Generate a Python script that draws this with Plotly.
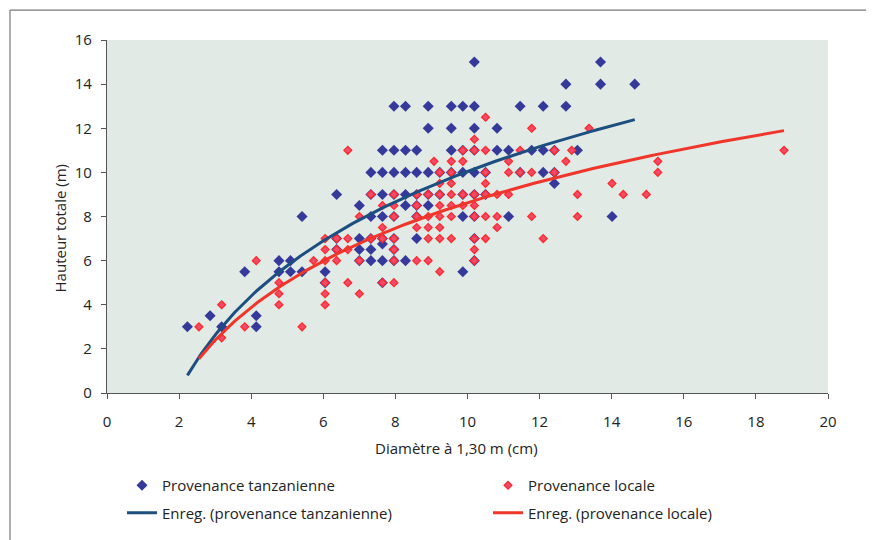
import numpy as np
import plotly.graph_objects as go

# ---- Provenance tanzanienne : diamètre (cm) / hauteur (m) ----
tz_diam = [10.19, 13.69,
           12.73, 13.69, 14.64,
           7.96, 8.28, 8.91, 9.55, 9.87, 10.19, 11.46, 12.10, 12.73,
           8.91, 9.55, 10.19, 10.82,
           7.64, 7.96, 8.28, 8.59, 9.55, 9.87, 10.19, 10.82, 11.14, 11.78, 12.10, 12.41, 13.05,
           7.32, 7.64, 7.96, 8.28, 8.59, 8.91, 9.23, 9.55, 9.87, 10.19, 10.50, 11.46, 12.10, 12.41,
           12.41,
           6.37, 7.32, 7.64, 7.96, 8.28, 8.59, 8.91, 9.23, 9.87, 10.19, 10.50,
           7.00, 8.28, 8.59, 8.91,
           5.41, 7.32, 7.64, 7.96, 8.59, 9.87, 10.19, 11.14, 14.01,
           6.37, 7.00, 7.32, 7.64, 7.96, 8.59, 10.19,
           7.64,
           6.37, 7.00, 7.32, 7.96,
           4.77, 5.09, 7.00, 7.32, 7.64, 7.96, 8.28, 10.19,
           3.82, 4.77, 5.09, 5.41, 6.05, 9.87,
           6.05, 7.64,
           2.86, 4.14,
           2.23, 3.18, 4.14]
tz_haut = [15, 15,
           14, 14, 14,
           13, 13, 13, 13, 13, 13, 13, 13, 13,
           12, 12, 12, 12,
           11, 11, 11, 11, 11, 11, 11, 11, 11, 11, 11, 11, 11,
           10, 10, 10, 10, 10, 10, 10, 10, 10, 10, 10, 10, 10, 10,
           9.5,
           9, 9, 9, 9, 9, 9, 9, 9, 9, 9, 9,
           8.5, 8.5, 8.5, 8.5,
           8, 8, 8, 8, 8, 8, 8, 8, 8,
           7, 7, 7, 7, 7, 7, 7,
           6.75,
           6.5, 6.5, 6.5, 6.5,
           6, 6, 6, 6, 6, 6, 6, 6,
           5.5, 5.5, 5.5, 5.5, 5.5, 5.5,
           5, 5,
           3.5, 3.5,
           3, 3, 3]

# ---- Provenance locale ----
loc_diam = [10.50,
            11.78, 13.37,
            10.19,
            6.68, 9.87, 10.19, 10.50, 11.46, 12.41, 12.89, 18.78,
            9.07, 9.55, 9.87, 11.14, 12.73, 15.28,
            9.23, 9.55, 10.50, 11.14, 11.46, 11.78, 12.41, 15.28,
            9.23, 9.55, 10.50, 14.01,
            7.32, 7.96, 8.59, 8.91, 9.23, 9.55, 9.87, 10.19, 10.50, 10.82, 11.14, 13.05, 14.32, 14.96,
            7.64, 7.96, 8.59, 9.23, 9.55, 9.87, 10.19,
            7.00, 7.96, 8.59, 8.91, 9.23, 9.55, 10.19, 10.50, 10.82, 11.78, 13.05,
            7.64, 8.59, 8.91, 9.23, 10.82,
            6.05, 6.37, 6.68, 7.32, 7.64, 7.96, 8.91, 9.23, 9.55, 10.19, 10.50, 12.10,
            6.05, 6.37, 6.68, 7.96, 10.19,
            4.14, 5.73, 6.05, 6.37, 7.00, 7.96, 8.59, 8.91, 10.19,
            9.23,
            4.77, 6.05, 6.68, 7.64, 7.96,
            4.77, 6.05, 7.00,
            3.18, 4.77, 6.05,
            2.55, 3.82, 5.41,
            3.18]
loc_haut = [12.5,
            12, 12,
            11.5,
            11, 11, 11, 11, 11, 11, 11, 11,
            10.5, 10.5, 10.5, 10.5, 10.5, 10.5,
            10, 10, 10, 10, 10, 10, 10, 10,
            9.5, 9.5, 9.5, 9.5,
            9, 9, 9, 9, 9, 9, 9, 9, 9, 9, 9, 9, 9, 9,
            8.5, 8.5, 8.5, 8.5, 8.5, 8.5, 8.5,
            8, 8, 8, 8, 8, 8, 8, 8, 8, 8, 8,
            7.5, 7.5, 7.5, 7.5, 7.5,
            7, 7, 7, 7, 7, 7, 7, 7, 7, 7, 7, 7,
            6.5, 6.5, 6.5, 6.5, 6.5,
            6, 6, 6, 6, 6, 6, 6, 6, 6,
            5.5,
            5, 5, 5, 5, 5,
            4.5, 4.5, 4.5,
            4, 4, 4,
            3, 3, 3,
            2.5]

# logarithmic trend lines (Excel "Enreg."): h = a + b*ln(d)
tz_trend = (-4.14, 6.16)
loc_trend = (-3.30, 5.18)

x_ticks = [0, 2, 4, 6, 8, 10, 12, 14, 16, 18, 20]
y_ticks = [0, 2, 4, 6, 8, 10, 12, 14, 16]

BLUE_PT = "#34399a"
RED_PT = "#f24a6a"
BLUE_LN = "#1c4f7f"
RED_LN = "#f0352a"
FONT = "Open Sans"
TXT = "#222222"

def trend(d, coef):
    xs = np.linspace(min(d), max(d), 200)
    return xs, coef[0] + coef[1] * np.log(xs)

fig = go.Figure()
fig.add_trace(go.Scatter(
    x=tz_diam, y=tz_haut, mode="markers", name="Provenance tanzanienne",
    marker=dict(symbol="diamond", size=8.5, color=BLUE_PT, line=dict(width=0)),
    legend="legend", legendgroup="a"))
fig.add_trace(go.Scatter(
    x=loc_diam, y=loc_haut, mode="markers", name="Provenance locale",
    marker=dict(symbol="diamond", size=6, color=RED_PT, line=dict(width=1.3, color="#ff2b2b")),
    legend="legend2", legendgroup="c"))
tx, ty = trend(tz_diam, tz_trend)
fig.add_trace(go.Scatter(
    x=tx, y=ty, mode="lines", name="Enreg. (provenance tanzanienne)",
    line=dict(color=BLUE_LN, width=3), legend="legend", legendgroup="b"))
lx, ly = trend(loc_diam, loc_trend)
fig.add_trace(go.Scatter(
    x=lx, y=ly, mode="lines", name="Enreg. (provenance locale)",
    line=dict(color=RED_LN, width=3), legend="legend2", legendgroup="d"))

# the page body has an 8px margin: lay the figure out in page pixels minus that offset
OFF = 8
W, H = 874 - OFF, 540 - OFF
L, R, T, B = 107 - OFF, 874 - 828, 40 - OFF, 540 - 394
pw, ph = W - L - R, H - T - B

def px_x(p):
    return (p - OFF - L) / pw

def px_y(p):
    return (H - B - (p - OFF)) / ph

axis_common = dict(
    showgrid=False, zeroline=False, showline=True, linecolor="#555555", linewidth=1.3,
    ticks="outside", ticklen=5, tickcolor="#555555", tickwidth=1.3,
    tickfont=dict(family=FONT, size=15, color=TXT),
)

leg_common = dict(xanchor="left", yanchor="top", bgcolor="rgba(0,0,0,0)",
                  font=dict(family=FONT, size=15, color=TXT),
                  traceorder="grouped", tracegroupgap=5)

fig.update_layout(
    width=W, height=H,
    margin=dict(l=L, r=R, t=T, b=B),
    paper_bgcolor="white", plot_bgcolor="#e1eae5",
    font=dict(family=FONT, size=15, color=TXT),
    xaxis=dict(range=[0, 20], tickvals=x_ticks, ticktext=[str(v) for v in x_ticks],
               ticklabelstandoff=10, **axis_common),
    yaxis=dict(range=[0, 16], tickvals=y_ticks, ticktext=[str(v) for v in y_ticks],
               ticklabelstandoff=6, **axis_common),
    legend=dict(x=px_x(122), y=px_y(469), **leg_common),
    legend2=dict(x=px_x(488), y=px_y(469), **leg_common),
    annotations=[
        dict(text="Diamètre à 1,30 m (cm)", x=px_x(456), y=px_y(449), xref="paper", yref="paper",
             showarrow=False, xanchor="center", yanchor="middle",
             font=dict(family=FONT, size=15, color=TXT)),
        dict(text="Hauteur totale (m)", x=px_x(60), y=px_y(229), xref="paper", yref="paper",
             showarrow=False, xanchor="center", yanchor="middle", textangle=-90,
             font=dict(family=FONT, size=15, color=TXT)),
    ],
    shapes=[
        dict(type="line", xref="paper", yref="paper", x0=px_x(10), x1=px_x(10),
             y0=px_y(10), y1=px_y(545), line=dict(color="#777777", width=1.2)),
        dict(type="line", xref="paper", yref="paper", x0=px_x(10), x1=px_x(870),
             y0=px_y(10), y1=px_y(10), line=dict(color="#777777", width=1.2)),
        dict(type="line", xref="paper", yref="paper", x0=px_x(870), x1=px_x(870),
             y0=px_y(10), y1=px_y(545), line=dict(color="#777777", width=1.2)),
    ],
)

fig.write_html("out.html")
